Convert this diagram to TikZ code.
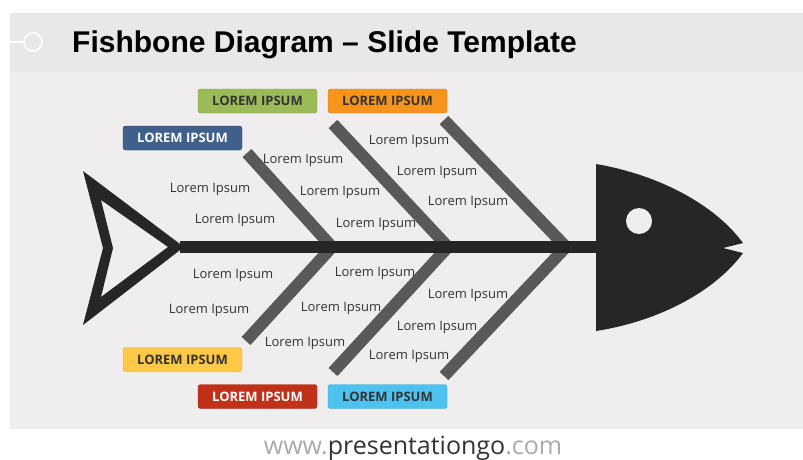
\documentclass[tikz,border=0pt]{standalone}
\usepackage{fontspec}
\setmainfont{Open Sans}
\newfontfamily\titlefont{Liberation Sans}

\definecolor{slidebg}{RGB}{239,237,238}
\definecolor{bandbg}{RGB}{233,231,232}
\definecolor{bonedark}{RGB}{38,38,38}
\definecolor{bonegray}{RGB}{89,89,89}
\definecolor{txtgray}{RGB}{51,51,51}
\definecolor{webgray}{RGB}{170,170,170}
\definecolor{catgreen}{RGB}{155,187,89}
\definecolor{catorange}{RGB}{247,148,29}
\definecolor{catblue}{RGB}{62,96,138}
\definecolor{catyellow}{RGB}{255,200,70}
\definecolor{catred}{RGB}{192,49,26}
\definecolor{catcyan}{RGB}{77,194,238}

\begin{document}
\begin{tikzpicture}[x=1pt,y=-1pt,
		bone/.style={bonegray, line width=12pt},
		cause/.style={text=txtgray, font=\fontsize{13}{15}\selectfont, inner sep=0pt, yshift=-2pt},
		cat/.style={rounded corners=2.5pt, minimum width=119pt, minimum height=24pt,
			inner sep=0pt, font=\fontsize{13}{15}\selectfont\bfseries},
		catlight/.style={cat, text=txtgray},
		catdark/.style={cat, text=white}]
		\useasboundingbox (0,0) rectangle (803,459);
		
		% slide and title band
		\fill[slidebg] (10,13) rectangle (803,429);
		\fill[bandbg] (10,13) rectangle (803,72);
		\draw[white, line width=1.5pt] (10,42) -- (24,42);
		\draw[white, line width=1.8pt] (33,42) circle (9pt);
		\node[anchor=base west, inner sep=0pt, font=\titlefont\fontsize{30}{34}\selectfont\bfseries] (title) at (72,52) {Fishbone Diagram \textendash{} Slide Template};
		
		% bones, upper and lower
		\draw[bone] (247,153) -- (332,247);
		\draw[bone] (333,124) -- (448,247);
		\draw[bone] (444,120) -- (566,247);
		\draw[bone] (246,341) -- (332,247);
		\draw[bone] (333,372) -- (448,247);
		\draw[bone] (444,376) -- (566,247);
		
		% spine, tail and head
		\fill[bonedark] (180,241) rectangle (598,253);
		\fill[bonedark, even odd rule] (83,171) -- (184,247) -- (83,325) -- (103,248) -- cycle
			(101,200) -- (168,247) -- (101,297) -- (113,248) -- cycle;
		\fill[bonedark] (596,164) .. controls (660,175) and (715,205) .. (743,243) -- (723,248) -- (743,253)
			.. controls (715,291) and (660,321) .. (596,331) -- cycle;
		\fill[slidebg] (639,221) circle (13pt);
		
		% category labels
		\node[catdark, fill=catblue, draw=catblue!80!black] (catA) at (182.5,138) {LOREM IPSUM};
		\node[catlight, fill=catgreen, draw=catgreen!85!black] (catB) at (257.5,101) {LOREM IPSUM};
		\node[catlight, fill=catorange, draw=catorange!85!black] (catC) at (387.5,101) {LOREM IPSUM};
		\node[catlight, fill=catyellow, draw=catyellow!85!black] (catD) at (182.5,359.5) {LOREM IPSUM};
		\node[catdark, fill=catred, draw=catred!85!black] (catE) at (257.5,396.5) {LOREM IPSUM};
		\node[catlight, fill=catcyan, draw=catcyan!85!black] (catF) at (387.5,396.5) {LOREM IPSUM};
		
		% causes above the spine
		\node[cause] (a1) at (210,187) {Lorem Ipsum};
		\node[cause] (a2) at (235,218) {Lorem Ipsum};
		\node[cause] (b1) at (303,158) {Lorem Ipsum};
		\node[cause] (b2) at (340,190) {Lorem Ipsum};
		\node[cause] (b3) at (376,222) {Lorem Ipsum};
		\node[cause] (c1) at (409,139) {Lorem Ipsum};
		\node[cause] (c2) at (437,170) {Lorem Ipsum};
		\node[cause] (c3) at (468,200) {Lorem Ipsum};
		
		% causes below the spine
		\node[cause] (d1) at (233,273) {Lorem Ipsum};
		\node[cause] (d2) at (209,308) {Lorem Ipsum};
		\node[cause] (e1) at (375,271) {Lorem Ipsum};
		\node[cause] (e2) at (341,306) {Lorem Ipsum};
		\node[cause] (e3) at (305,341) {Lorem Ipsum};
		\node[cause] (f1) at (468,293) {Lorem Ipsum};
		\node[cause] (f2) at (437,325) {Lorem Ipsum};
		\node[cause] (f3) at (409,354) {Lorem Ipsum};
		
		% footer
		\node[inner sep=0pt, font=\fontsize{25}{28}\selectfont] (web) at (413,448)
			{\textcolor{webgray}{www.}\textcolor{txtgray}{presentationgo}\textcolor{webgray}{.com}};
	
	\end{tikzpicture}
\end{document}
